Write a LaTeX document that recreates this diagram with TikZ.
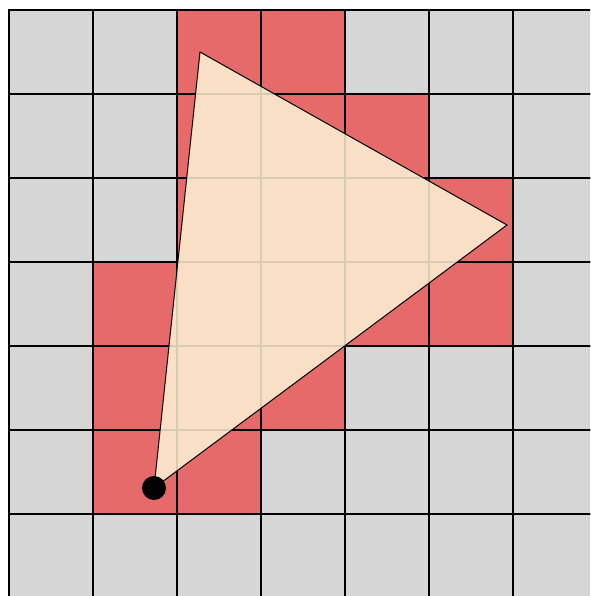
\documentclass[tikz,border=0pt]{standalone}
\definecolor{cellgray}{HTML}{D6D6D6}
\definecolor{cellred}{HTML}{E66A6A}
\definecolor{tri}{HTML}{F8DFC5}
\definecolor{faint}{HTML}{D6CDB0}
\tikzset{
  cell/.style={fill=cellgray, draw=black, line width=1.1pt},
  redcell/.style={fill=cellred, draw=black, line width=1.1pt},
  triangle/.style={draw=black, line width=1pt, line join=miter},
  dot/.style={circle, fill=black, inner sep=0pt, minimum size=24pt}
}
\begin{document}
\begin{tikzpicture}[x=1pt,y=-1pt]
\useasboundingbox (0,0) rectangle (590,596);
\fill[white] (0,0) rectangle (590,596);
\begin{scope}
\clip (0,0) rectangle (590,596);
\foreach \r in {0,...,6}{
  \foreach \c in {0,...,6}{
    \draw[cell] ({9+84*\c},{10+84*\r}) rectangle ++(84,84);
  }
}
\foreach \r/\c in {0/2,0/3,1/2,1/3,1/4,2/2,2/3,2/4,2/5,3/1,3/2,3/3,3/4,3/5,4/1,4/2,4/3,5/1,5/2}{
  \draw[redcell] ({9+84*\c},{10+84*\r}) rectangle ++(84,84);
}
\end{scope}
\coordinate (A) at (200,52);
\coordinate (B) at (507,225);
\coordinate (C) at (154,488);
\fill[tri] (A) -- (B) -- (C) -- cycle;
\begin{scope}
\clip (A) -- (B) -- (C) -- cycle;
\foreach \i in {1,2,3,4,5,6}{
  \draw[draw=faint, line width=1.1pt] ({9+84*\i},0) -- ({9+84*\i},596);
  \draw[draw=faint, line width=1.1pt] (0,{10+84*\i}) -- (590,{10+84*\i});
}
\end{scope}
\draw[triangle] (A) -- (B) -- (C) -- cycle;
\node[dot] (P) at (C) {};
\end{tikzpicture}
\end{document}
